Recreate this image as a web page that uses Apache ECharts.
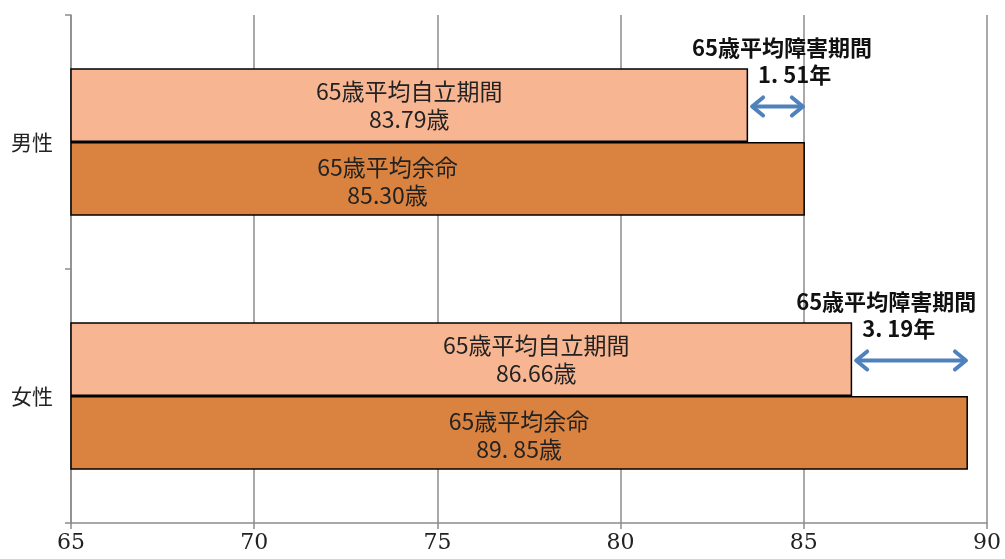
<!DOCTYPE html>
<html><head><meta charset="utf-8">
<script src="https://cdn.jsdelivr.net/npm/echarts@6/dist/echarts.min.js"></script>
<style>html,body{margin:0;padding:0;background:#fff}#c{width:1005px;height:559px}</style>
</head><body><div id="c"></div>
<script>
// ---- data ----
const categories = ['男性', '女性'];
const independentPeriod = [83.48, 86.32];      // bar ends as drawn
const lifeExpectancy = [85.03, 89.48];         // bar ends as drawn
const independentLabels = ['65歳平均自立期間\n83.79歳', '65歳平均自立期間\n86.66歳'];
const lifeLabels = ['65歳平均余命\n85.30歳', '65歳平均余命\n89. 85歳'];
const disabilityTitle = '65歳平均障害期間';
const disabilityLabels = ['1. 51年', '3. 19年'];
const xTicks = {min: 65, max: 90, interval: 5};

const CJK = '"Noto Sans CJK JP", "Noto Sans", sans-serif';
const labelOffsetsIndep = [[0, 0], [75, 0]];
const labelOffsetsLife = [[-50, 2], [0, 2]];

const chart = echarts.init(document.getElementById('c'));
const arrowData = categories.map((c, i) => [independentPeriod[i], lifeExpectancy[i], i]);

function barLabel(offset) {
  return {show: true, position: 'inside', offset: offset, color: '#222',
    fontFamily: CJK, fontSize: 23, lineHeight: 28, align: 'center'};
}

chart.setOption({
  animation: false,
  grid: {left: 71, right: 18, top: 15, bottom: 36, containLabel: false},
  xAxis: {
    type: 'value', min: xTicks.min, max: xTicks.max, interval: xTicks.interval,
    axisLine: {show: true, lineStyle: {color: '#8c8c8c', width: 1.5}},
    axisTick: {show: true, length: 6, lineStyle: {color: '#8c8c8c', width: 1.5}},
    splitLine: {show: true, lineStyle: {color: '#8c8c8c', width: 1.5}},
    axisLabel: {color: '#222', fontFamily: '"DejaVu Serif", serif', fontSize: 22, margin: 9}
  },
  yAxis: {
    type: 'category', data: categories, inverse: true,
    axisLine: {show: true, lineStyle: {color: '#8c8c8c', width: 1.5}},
    axisTick: {show: true, length: 6, alignWithLabel: false, lineStyle: {color: '#8c8c8c', width: 1.5}},
    axisLabel: {color: '#222', fontFamily: CJK, fontSize: 21, margin: 18}
  },
  series: [
    {
      type: 'bar', name: '65歳平均自立期間', barGap: '0%', barCategoryGap: '42%',
      data: independentPeriod.map((v, i) => ({value: v, label: Object.assign(barLabel(labelOffsetsIndep[i]), {formatter: independentLabels[i]})})),
      itemStyle: {color: '#F7B592', borderColor: '#000', borderWidth: 1.5},
      z: 3
    },
    {
      type: 'bar', name: '65歳平均余命', barGap: '0%', barCategoryGap: '42%',
      data: lifeExpectancy.map((v, i) => ({value: v, label: Object.assign(barLabel(labelOffsetsLife[i]), {formatter: lifeLabels[i]})})),
      itemStyle: {color: '#DA823F', borderColor: '#000', borderWidth: 1.5},
      z: 3
    },
    {
      type: 'custom', data: arrowData, z: 5,
      renderItem: function (params, api) {
        const i = api.value(2);
        const s = api.coord([api.value(0), i]);
        const e = api.coord([api.value(1), i]);
        const band = api.size([0, 1])[1];
        const y = s[1] - band * 0.14;
        const x1 = s[0] + 4, x2 = e[0] - 2;
        const hl = 11, hw = 9;
        const stroke = {stroke: '#4F81BD', lineWidth: 4, lineCap: 'round', lineJoin: 'round', fill: null};
        return {
          type: 'group',
          children: [
            {type: 'line', shape: {x1: x1 + 2, y1: y, x2: x2 - 2, y2: y}, style: stroke},
            {type: 'polyline', shape: {points: [[x1 + hl, y - hw], [x1, y], [x1 + hl, y + hw]]}, style: stroke},
            {type: 'polyline', shape: {points: [[x2 - hl, y - hw], [x2, y], [x2 - hl, y + hw]]}, style: stroke},
            {type: 'text', style: {text: disabilityTitle, x: s[0] - 56, y: s[1] - band * 0.37,
              align: 'left', verticalAlign: 'middle', fill: '#111',
              font: 'bold 22px "Noto Sans CJK JP", sans-serif'}},
            {type: 'text', style: {text: disabilityLabels[i], x: s[0] + 10, y: s[1] - band * 0.265,
              align: 'left', verticalAlign: 'middle', fill: '#111',
              font: 'bold 22px "Noto Sans CJK JP", sans-serif'}}
          ]
        };
      }
    }
  ]
});
</script>
</body></html>
